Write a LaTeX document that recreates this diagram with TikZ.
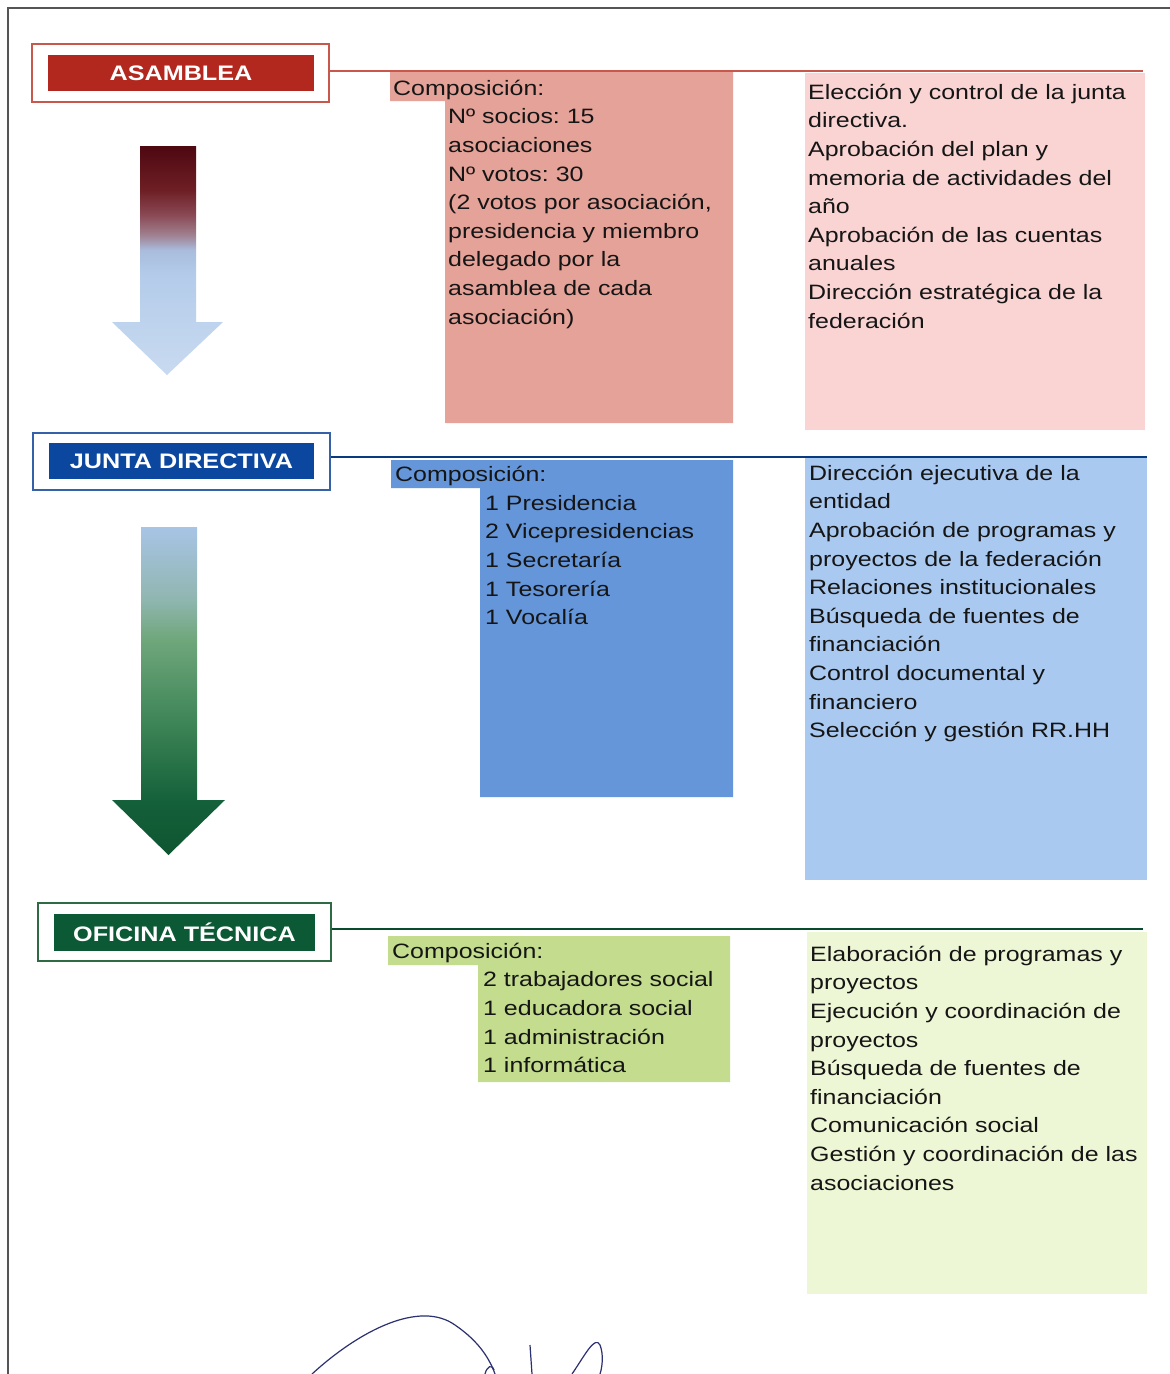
\documentclass[tikz,border=0pt]{standalone}
\usepackage{fontspec}
\setmainfont{Liberation Sans}[FakeStretch=1.2]
\frenchspacing
\definecolor{textc}{HTML}{151515}
\definecolor{ared}{HTML}{B2281E}
\definecolor{aredl}{HTML}{C8574C}
\definecolor{pinkA}{HTML}{E4A298}
\definecolor{pinkB}{HTML}{F9D4D3}
\definecolor{jblue}{HTML}{0B479E}
\definecolor{jbluel}{HTML}{3561A8}
\definecolor{blueA}{HTML}{6596DA}
\definecolor{blueB}{HTML}{AAC9F0}
\definecolor{ogreen}{HTML}{0B5A35}
\definecolor{ogreenl}{HTML}{2E6A44}
\definecolor{greenA}{HTML}{C4DC8E}
\definecolor{greenB}{HTML}{EEF7D5}
\definecolor{frm}{HTML}{555555}
\definecolor{sigc}{HTML}{2B3070}
\definecolor{aTip}{HTML}{C8DAF0}
\definecolor{aLb}{HTML}{B4CCEA}
\definecolor{aLb2}{HTML}{A9BCDC}
\definecolor{aMv}{HTML}{A08090}
\definecolor{aMv2}{HTML}{8A4A55}
\definecolor{aDr}{HTML}{6E1E25}
\definecolor{aDm}{HTML}{4E0810}
\definecolor{bG5}{HTML}{0E5530}
\definecolor{bG4}{HTML}{14603A}
\definecolor{bG3}{HTML}{3D8456}
\definecolor{bG2}{HTML}{70A77C}
\definecolor{bG1}{HTML}{90B6B0}
\definecolor{bG0}{HTML}{A8C4E6}
\pgfdeclareverticalshading{arrA}{100bp}{color(0bp)=(aTip); color(25bp)=(aTip); color(46.8bp)=(aLb); color(52.3bp)=(aLb2); color(55.6bp)=(aMv); color(59.9bp)=(aMv2); color(65.4bp)=(aDr); color(75bp)=(aDm); color(100bp)=(aDm)}
\pgfdeclareverticalshading{arrB}{100bp}{color(0bp)=(bG5); color(25bp)=(bG5); color(33bp)=(bG4); color(45bp)=(bG3); color(58bp)=(bG2); color(64bp)=(bG1); color(75bp)=(bG0); color(100bp)=(bG0)}
\newcommand\fl{\vrule height 20pt depth 0pt width 0pt}
\begin{document}
\begin{tikzpicture}[x=1pt,y=-1pt,
  txt/.style={anchor=north west, inner sep=0pt, align=left, text=textc, font=\fontsize{20.8}{28.6}\selectfont},
  ttl/.style={inner sep=0pt, text=white, font=\bfseries\fontsize{21}{24}\selectfont},
  obox/.style={draw, line width=1.5pt, inner sep=0pt},
  sig/.style={draw=sigc, line width=1.2pt}]
\useasboundingbox (0,0) rectangle (1170,1374);
\fill[white] (0,0) rectangle (1170,1374);
% frame
\draw[frm, line width=1.5pt] (8,1374) -- (8,8) -- (1170,8);

% ---------- ASAMBLEA ----------
\node[obox, draw=aredl, minimum width=297pt, minimum height=58pt] (asamO) at (180.5,73) {};
\node[ttl, fill=ared, minimum width=266pt, minimum height=36pt] (asamT) at (181,73) {ASAMBLEA};
\coordinate (asamR) at (1143,71);
\draw[aredl, line width=1.5pt] ([yshift=2pt]asamO.east) -- (asamR);
\fill[pinkA] (390,72) -- (733,72) -- (733,423) -- (445,423) -- (445,101) -- (390,101) -- cycle;
\fill[pinkB] (805,73) rectangle (1145,430);
\node[txt] (asamC) at (393,75) {\fl Composición:};
\node[txt] (asamL) at (448,103.6) {\fl Nº socios: 15\\asociaciones\\Nº votos: 30\\(2 votos por asociación,\\presidencia y miembro\\delegado por la\\asamblea de cada\\asociación)};
\node[txt] (asamF) at (808,79) {\fl Elección y control de la junta\\directiva.\\Aprobación del plan y\\memoria de actividades del\\año\\Aprobación de las cuentas\\anuales\\Dirección estratégica de la\\federación};
\shade[shading=arrA] (140,146) -- (196,146) -- (196,322) -- (223,322) -- (167,375) -- (112,322) -- (140,322) -- cycle;

% ---------- JUNTA DIRECTIVA ----------
\node[obox, draw=jbluel, minimum width=297pt, minimum height=57pt] (juntO) at (181.5,461.5) {};
\node[ttl, fill=jblue, minimum width=265pt, minimum height=36pt] (juntT) at (181.5,461) {JUNTA DIRECTIVA};
\coordinate (juntR) at (1147,457);
\draw[jblue!80!black, line width=1.5pt] ([yshift=4.5pt]juntO.east) -- (juntR);
\fill[blueA] (391,460) -- (733,460) -- (733,797) -- (480,797) -- (480,488) -- (391,488) -- cycle;
\fill[blueB] (805,458) rectangle (1147,880);
\node[txt] (juntC) at (395,461.5) {\fl Composición:};
\node[txt] (juntL) at (485,490.1) {\fl 1 Presidencia\\2 Vicepresidencias\\1 Secretaría\\1 Tesorería\\1 Vocalía};
\node[txt] (juntF) at (809,460) {\fl Dirección ejecutiva de la\\entidad\\Aprobación de programas y\\proyectos de la federación\\Relaciones institucionales\\Búsqueda de fuentes de\\financiación\\Control documental y\\financiero\\Selección y gestión RR.HH};
\shade[shading=arrB] (141,527) -- (197,527) -- (197,800) -- (225,800) -- (168.5,855) -- (112,800) -- (141,800) -- cycle;

% ---------- OFICINA TECNICA ----------
\node[obox, draw=ogreenl, minimum width=293pt, minimum height=58pt] (ofiO) at (184.5,932) {};
\node[ttl, fill=ogreen, minimum width=261pt, minimum height=37pt] (ofiT) at (184.5,932.5) {OFICINA TÉCNICA};
\coordinate (ofiR) at (1143,929);
\draw[ogreen!85!black, line width=1.5pt] ([yshift=3pt]ofiO.east) -- (ofiR);
\fill[greenA] (388,936) -- (730,936) -- (730,1082) -- (478,1082) -- (478,965) -- (388,965) -- cycle;
\fill[greenB] (807,932) rectangle (1147,1294);
\node[txt] (ofiC) at (392,938) {\fl Composición:};
\node[txt] (ofiL) at (483,966.6) {\fl 2 trabajadores social\\1 educadora social\\1 administración\\1 informática};
\node[txt] (ofiF) at (810,941) {\fl Elaboración de programas y\\proyectos\\Ejecución y coordinación de\\proyectos\\Búsqueda de fuentes de\\financiación\\Comunicación social\\Gestión y coordinación de las\\asociaciones};

% signature
\draw[sig] (312,1374) .. controls (360,1330) and (420,1300) .. (455,1325) .. controls (480,1342) and (490,1360) .. (495,1374);
\draw[sig] (485,1374) .. controls (487,1366) and (492,1364) .. (494,1370);
\draw[sig] (530,1345) -- (532,1374);
\draw[sig] (572,1374) .. controls (585,1355) and (595,1335) .. (600,1345) .. controls (604,1355) and (602,1368) .. (600,1374);
\end{tikzpicture}
\end{document}
